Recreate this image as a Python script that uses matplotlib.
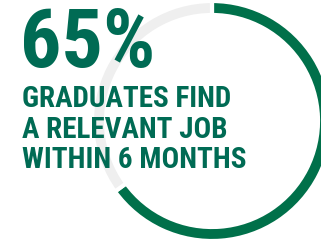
import matplotlib.pyplot as plt

# Datos
share = [65, 35]
headline = "65%"
lines = ["GRADUATES FIND", "A RELEVANT JOB", "WITHIN 6 MONTHS"]

green_ring = '#00704A'
green_text = '#006B54'
gray_ring = '#EFEFEF'

plt.rcParams['font.family'] = ['Roboto Condensed', 'DejaVu Sans']

fig = plt.figure(figsize=(3.21, 2.45), dpi=100)
ax = fig.add_axes([0, 0, 1, 1])

# Anillo (eje y invertido: sentido antihorario en datos = horario en pantalla)
ax.pie(share, colors=[green_ring, gray_ring], startangle=-90, counterclock=True,
       center=(212, 121), radius=120, frame=True,
       wedgeprops=dict(width=14, edgecolor='white', linewidth=3))
ax.set_xlim(0, 321)
ax.set_ylim(245, 0)
ax.set_aspect('auto')
ax.axis('off')

ax.text(20, 67, headline, fontsize=59, fontweight='bold', color=green_text,
        ha='left', va='baseline')
for i, t in enumerate(lines):
    ax.text(22, 107 + i * 30.5, t, fontsize=21, fontweight='bold', color=green_text,
            ha='left', va='baseline')

plt.savefig('out.png', dpi=100)
